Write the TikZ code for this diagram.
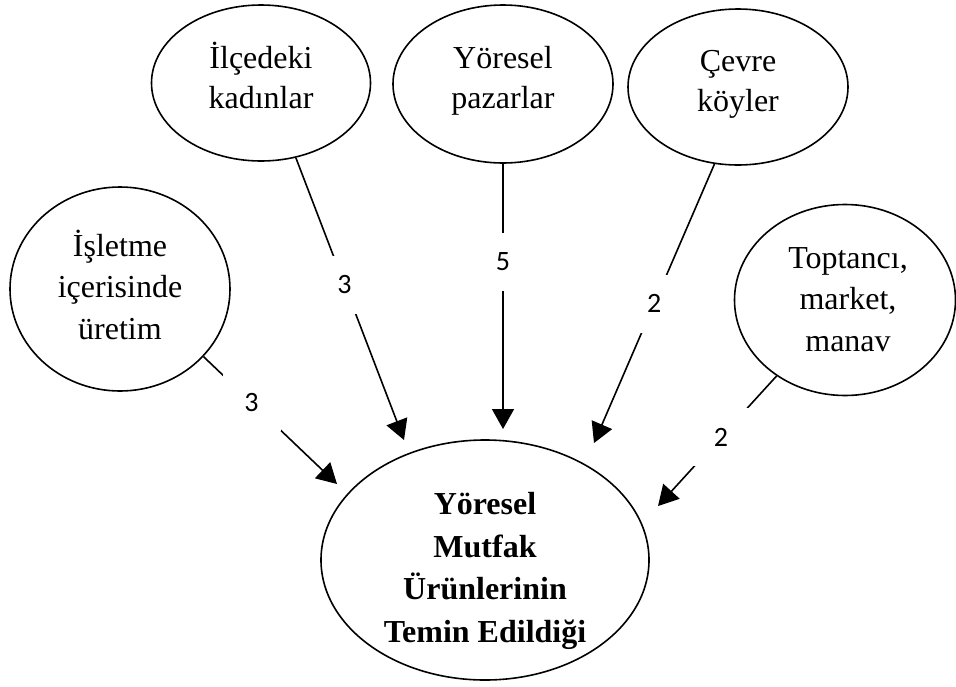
\documentclass[tikz,border=0pt]{standalone}
\usepackage{fontspec}
\setmainfont{Liberation Serif}
\newfontfamily\lblfont{Carlito}
\usetikzlibrary{arrows.meta,shapes.geometric}
\newcommand\myhi{\rule{0pt}{24pt}}
\newcommand\mylo{\rule[-9pt]{0pt}{9pt}}
\begin{document}
\begin{tikzpicture}[x=1pt,y=-1pt,
  ell/.style={ellipse, draw, line width=1.6pt, inner sep=0pt},
  txt/.style={inner sep=0pt, align=center, font=\fontsize{32}{40}\selectfont},
  txtb/.style={txt, font=\fontsize{32}{41.5}\selectfont},
  txtc/.style={txt, font=\bfseries\fontsize{32}{42.5}\selectfont},
  conn/.style={line width=1.6pt, -{Triangle[length=20pt,width=22pt]}},
  lbl/.style={fill=white, minimum width=58pt, minimum height=58pt, inner sep=0pt,
    font=\lblfont\fontsize{28}{32}\selectfont}]
\useasboundingbox (0,0) rectangle (956,686);

\node[ell, minimum width=220pt, minimum height=204pt] (isl) at (120,289) {};
\node[ell, minimum width=219pt, minimum height=156pt] (ilc) at (261,83) {};
\node[ell, minimum width=220pt, minimum height=158pt] (paz) at (503,84) {};
\node[ell, minimum width=220pt, minimum height=156pt] (cev) at (738,87) {};
\node[ell, minimum width=221pt, minimum height=191pt] (top) at (845,300) {};
\node[ell, minimum width=328pt, minimum height=240pt] (mut) at (485,560) {};

\node[txtb] (islT) at (120,289) {\myhi İşletme\\içerisinde\\üretim\mylo};
\node[txt] (ilcT) at (261,79.5) {\myhi İlçedeki\\kadınlar\mylo};
\node[txt] (pazT) at (503,80.5) {\myhi Yöresel\\pazarlar\mylo};
\node[txt] (cevT) at (738,83.5) {\myhi Çevre\\köyler\mylo};
\node[txtb] (topT) at (848,302) {\myhi Toptancı,\\market,\\manav\mylo};
\node[txtc] (mutT) at (485,571) {\myhi Yöresel\\Mutfak\\Ürünlerinin\\Temin Edildiği\mylo};

\coordinate (t1) at (337,484);
\coordinate (t2) at (404,440);
\coordinate (t3) at (503,429);
\coordinate (t4) at (594,443);
\coordinate (t5) at (658,506);

\draw[conn] (isl.-39) -- node[lbl, pos=0.36] {3} (t1);
\draw[conn] (ilc.-65.5) -- node[lbl, pos=0.45] {3} (t2);
\draw[conn] (paz.south) -- node[lbl, pos=0.37] {5} (t3);
\draw[conn] (cev.-107.8) -- node[lbl, pos=0.5] {2} (t4);
\draw[conn] (top.-132.6) -- node[lbl, pos=0.47] {2} (t5);
\end{tikzpicture}
\end{document}
